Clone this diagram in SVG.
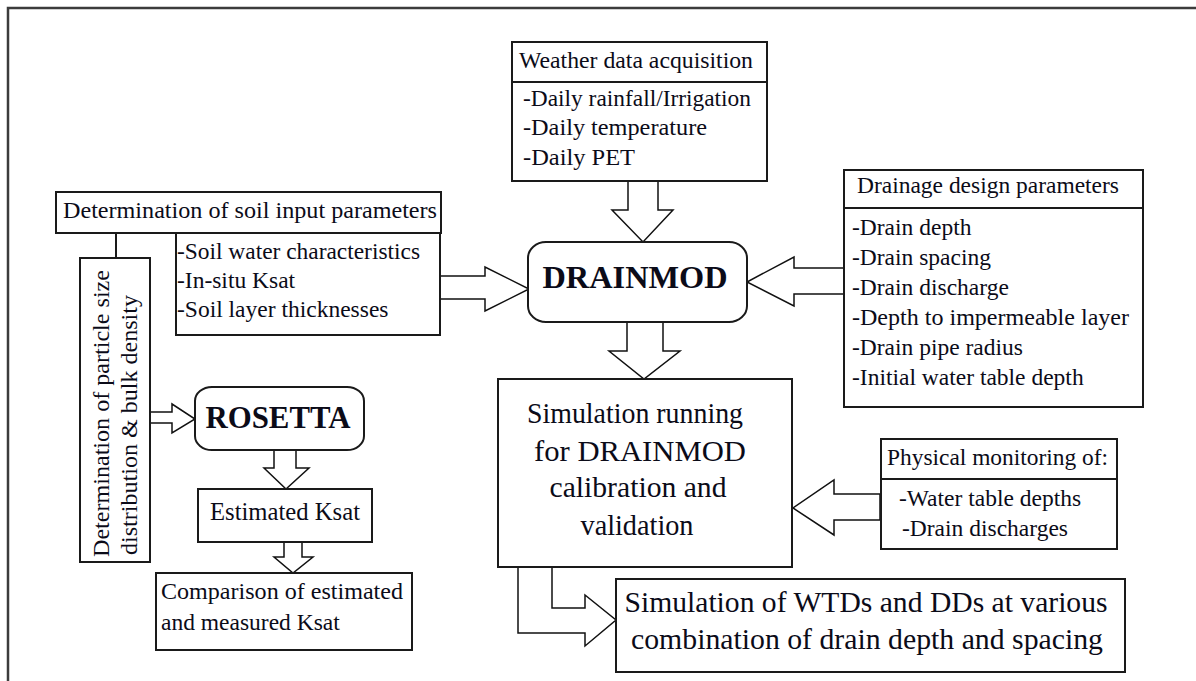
<svg xmlns="http://www.w3.org/2000/svg" width="1196" height="681" viewBox="0 0 1196 681">
<style>
  .box { fill: #fff; stroke: #1a1a1a; stroke-width: 2; }
  .arr { fill: #fff; stroke: #111; stroke-width: 1.5; stroke-linejoin: miter; }
  .ln { fill: none; stroke: #1a1a1a; stroke-width: 2; }
  text { font-family: "Liberation Serif", "Times New Roman", serif; fill: #0b0b18; }
  .s { font-size: 23.5px; }
  .b { font-size: 29px; }
  .bold { font-weight: bold; font-size: 32px; }
</style>
<rect x="0" y="0" width="1196" height="681" fill="#fff"/>
<path d="M8,700 V8 H1210" fill="none" stroke="#3c3c3c" stroke-width="2.5"/>

<g id="connectors">
  <path class="arr" d="M628,181 V210 H612 L643,242 L673,210 H658 V181"/>
  <path class="arr" d="M627,322 V351 H609 L644,379 L680,351 H663 V322"/>
  <path class="arr" d="M441,276 H485 V267 L529,289 L485,311 V299 H441"/>
  <path class="arr" d="M844,268 H794 V257 L747,282 L794,306 V294 H844"/>
  <path class="arr" d="M150,412 H172 V404 L195,419 L172,433 V423 H150"/>
  <path class="arr" d="M274,450 V468 H264 L286,489 L309,468 H296 V450"/>
  <path class="arr" d="M284,542 V557 H274 L293,573 L313,557 H302 V542"/>
  <path class="arr" d="M880,494 H834 V480 L793,508 L834,535 V520 H880 Z"/>
  <path class="arr" d="M518,567 V633 H585 V646 L616,620 L585,595 V608 H552 V567"/>
  <path class="ln" d="M116,233 V258"/>
</g>

<g id="weather">
  <rect class="box" x="512" y="42" width="255" height="40"/>
  <rect class="box" x="512" y="82" width="255" height="99"/>
  <text class="s" x="519" y="68" textLength="234" lengthAdjust="spacingAndGlyphs">Weather data acquisition</text>
  <text class="s" x="523" y="106" textLength="228" lengthAdjust="spacingAndGlyphs">-Daily rainfall/Irrigation</text>
  <text class="s" x="523" y="135" textLength="184" lengthAdjust="spacingAndGlyphs">-Daily temperature</text>
  <text class="s" x="523" y="165" textLength="112" lengthAdjust="spacingAndGlyphs">-Daily PET</text>
</g>

<g id="soil">
  <rect class="box" x="56" y="192" width="385" height="41"/>
  <rect class="box" x="176" y="233" width="264" height="102"/>
  <text class="s" x="63" y="218" textLength="374" lengthAdjust="spacingAndGlyphs">Determination of soil input parameters</text>
  <text class="s" x="177" y="259" textLength="243" lengthAdjust="spacingAndGlyphs">-Soil water characteristics</text>
  <text class="s" x="177" y="288">-In-situ Ksat</text>
  <text class="s" x="177" y="317">-Soil layer thicknesses</text>
</g>

<g id="particle">
  <rect class="box" x="80" y="258" width="70" height="304"/>
  <text class="s" transform="translate(109,557) rotate(-90)" textLength="287" lengthAdjust="spacingAndGlyphs">Determination of particle size</text>
  <text class="s" transform="translate(137,555) rotate(-90)" textLength="260" lengthAdjust="spacingAndGlyphs">distribution &amp; bulk density</text>
</g>

<g id="drainmod">
  <rect class="box" x="528" y="242" width="219" height="80" rx="18" ry="16"/>
  <text class="bold" x="635" y="288" text-anchor="middle" textLength="185" lengthAdjust="spacingAndGlyphs">DRAINMOD</text>
</g>

<g id="drainage">
  <rect class="box" x="844" y="170" width="299" height="38"/>
  <rect class="box" x="844" y="208" width="299" height="199"/>
  <text class="s" x="857" y="193" textLength="262" lengthAdjust="spacingAndGlyphs">Drainage design parameters</text>
  <text class="s" x="852" y="235">-Drain depth</text>
  <text class="s" x="852" y="265">-Drain spacing</text>
  <text class="s" x="852" y="295">-Drain discharge</text>
  <text class="s" x="852" y="325" textLength="277" lengthAdjust="spacingAndGlyphs">-Depth to impermeable layer</text>
  <text class="s" x="852" y="355">-Drain pipe radius</text>
  <text class="s" x="852" y="385">-Initial water table depth</text>
</g>

<g id="rosetta">
  <rect class="box" x="195" y="387" width="169" height="63" rx="17" ry="14"/>
  <text class="bold" x="278" y="428" text-anchor="middle" textLength="145" lengthAdjust="spacingAndGlyphs" style="font-size:31px">ROSETTA</text>
</g>

<g id="estimated">
  <rect class="box" x="198" y="489" width="174" height="53"/>
  <text x="285" y="520" text-anchor="middle" style="font-size:25px" textLength="150" lengthAdjust="spacingAndGlyphs">Estimated Ksat</text>
</g>

<g id="comparison">
  <rect class="box" x="156" y="573" width="256" height="77"/>
  <text class="s" x="161" y="599" textLength="242" lengthAdjust="spacingAndGlyphs">Comparison of estimated</text>
  <text class="s" x="161" y="630">and measured Ksat</text>
</g>

<g id="simulation">
  <rect class="box" x="498" y="379" width="294" height="188"/>
  <text class="b" x="635" y="423" text-anchor="middle" textLength="216" lengthAdjust="spacingAndGlyphs">Simulation running</text>
  <text class="b" x="640" y="461" text-anchor="middle" textLength="212" lengthAdjust="spacingAndGlyphs">for DRAINMOD</text>
  <text class="b" x="638" y="497" text-anchor="middle" textLength="177" lengthAdjust="spacingAndGlyphs">calibration and</text>
  <text class="b" x="637" y="535" text-anchor="middle" textLength="113" lengthAdjust="spacingAndGlyphs">validation</text>
</g>

<g id="physical">
  <rect class="box" x="881" y="439" width="236" height="40"/>
  <rect class="box" x="881" y="479" width="236" height="70"/>
  <text class="s" x="887" y="465" textLength="221" lengthAdjust="spacingAndGlyphs">Physical monitoring of:</text>
  <text class="s" x="899" y="506">-Water table depths</text>
  <text class="s" x="902" y="536">-Drain discharges</text>
</g>

<g id="wtds">
  <rect class="box" x="616" y="579" width="509" height="93"/>
  <text class="b" x="866" y="612" text-anchor="middle" textLength="483" lengthAdjust="spacingAndGlyphs">Simulation of WTDs and DDs at various</text>
  <text class="b" x="867" y="649" text-anchor="middle" textLength="472" lengthAdjust="spacingAndGlyphs">combination of drain depth and spacing</text>
</g>
</svg>
